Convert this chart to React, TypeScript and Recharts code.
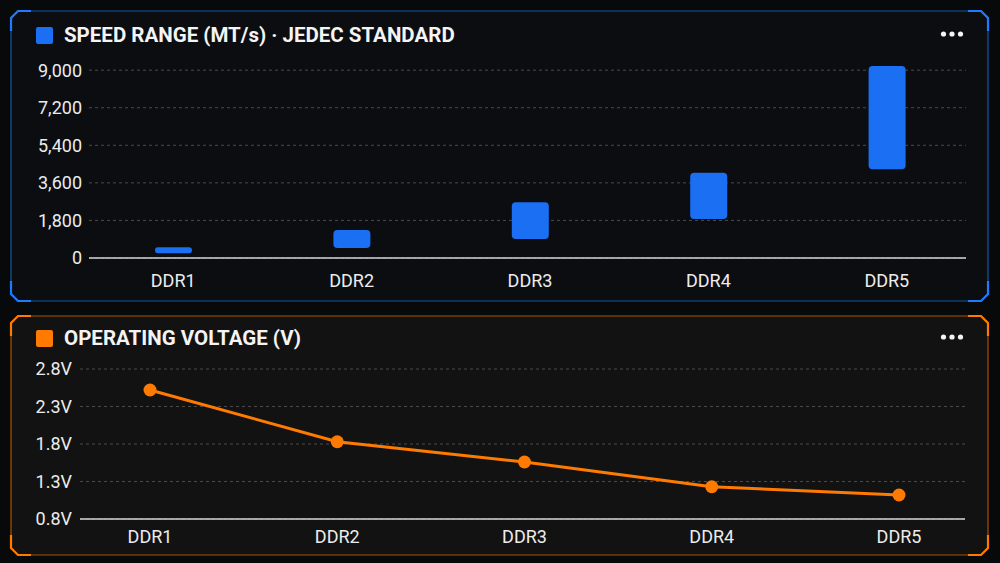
import React from 'react'
import {
  BarChart,
  Bar,
  LineChart,
  Line,
  XAxis,
  YAxis,
  CartesianGrid,
} from 'recharts'

// values
const generations = ['DDR1', 'DDR2', 'DDR3', 'DDR4', 'DDR5']
const speedLow = [230, 480, 910, 1870, 4250]
const speedHigh = [510, 1340, 2670, 4080, 9200]
const voltage = [2.52, 1.83, 1.56, 1.23, 1.12]
const speedTicks = [0, 1800, 3600, 5400, 7200, 9000]
const voltTicks = [0.8, 1.3, 1.8, 2.3, 2.8]

const speedData = generations.map((g, i) => ({ gen: g, range: [speedLow[i], speedHigh[i]] }))
const voltData = generations.map((g, i) => ({ gen: g, volt: voltage[i] }))

const BLUE = '#1b6ff3'
const ORANGE = '#ff7a00'
const FONT = 'Roboto, "Noto Sans", sans-serif'
const tickStyle = { fill: '#ececec', fontSize: 18, fontFamily: FONT }

function Panel({ top, height, accent, dim, bg }: { top: number; height: number; accent: string; dim: string; bg: string }) {
  const x = 11
  const w = 977
  const y = top
  const h = height
  const c = 7
  const a = 20
  const outline = `M${x + c},${y} L${x + w - c},${y} L${x + w},${y + c} L${x + w},${y + h - c} L${x + w - c},${y + h} L${x + c},${y + h} L${x},${y + h - c} L${x},${y + c} Z`
  const corners = [
    `M${x},${y + a} L${x},${y + c} L${x + c},${y} L${x + a},${y}`,
    `M${x + w - a},${y} L${x + w - c},${y} L${x + w},${y + c} L${x + w},${y + a}`,
    `M${x + w},${y + h - a} L${x + w},${y + h - c} L${x + w - c},${y + h} L${x + w - a},${y + h}`,
    `M${x + a},${y + h} L${x + c},${y + h} L${x},${y + h - c} L${x},${y + h - a}`,
  ]
  return (
    <svg width={1000} height={563} style={{ position: 'absolute', left: 0, top: 0 }}>
      <path d={outline} fill={bg} stroke={dim} strokeWidth={1.2} />
      {corners.map((d) => (
        <path key={d} d={d} fill="none" stroke={accent} strokeWidth={2.2} />
      ))}
    </svg>
  )
}

function Header({ top, color, title }: { top: number; color: string; title: string }) {
  return (
    <>
      <div
        style={{
          position: 'absolute',
          left: 36,
          top: top,
          width: 17,
          height: 17,
          borderRadius: 2,
          background: color,
        }}
      />
      <div
        style={{
          position: 'absolute',
          left: 64,
          top: top - 4,
          fontFamily: FONT,
          fontWeight: 700,
          fontSize: 20.5,
          lineHeight: '24px',
          color: '#f4f4f4',
          whiteSpace: 'nowrap',
        }}
      >
        {title}
      </div>
      <svg width={30} height={10} style={{ position: 'absolute', left: 938, top: top + 2 }}>
        {[5.5, 14, 22.5].map((cx) => (
          <circle key={cx} cx={cx} cy={5} r={2.6} fill="#f4f4f4" />
        ))}
      </svg>
    </>
  )
}

export default function App() {
  return (
    <div
      style={{
        position: 'fixed',
        left: 0,
        top: 0,
        width: 1000,
        height: 563,
        background: '#07090b',
        overflow: 'hidden',
      }}
    >
      <Panel top={11} height={290} accent="#1e7bff" dim="#1656a0" bg="#0b0d11" />
      <Panel top={316} height={239} accent={ORANGE} dim="#a85400" bg="#121212" />

      <Header top={27} color={BLUE} title="SPEED RANGE (MT/s) · JEDEC STANDARD" />
      <Header top={330} color={ORANGE} title="OPERATING VOLTAGE (V)" />

      <div style={{ position: 'absolute', left: 0, top: 50 }}>
        <BarChart
          width={1000}
          height={250}
          data={speedData}
          margin={{ top: 16, right: 34, bottom: 12, left: 0 }}
        >
          <CartesianGrid vertical={false} stroke="#4a4a4a" strokeDasharray="3 3" syncWithTicks />
          <XAxis
            dataKey="gen"
            height={30}
            padding={{ left: -5, right: -10 }}
            tickLine={false}
            tickMargin={10}
            axisLine={{ stroke: '#d4d4d4', strokeWidth: 1.5 }}
            tick={tickStyle}
          />
          <YAxis
            width={89}
            domain={[0, 9200]}
            ticks={speedTicks}
            tickFormatter={(v: number) => v.toLocaleString('en-US')}
            axisLine={false}
            tickLine={false}
            tickMargin={1}
            tick={tickStyle}
          />
          <Bar dataKey="range" fill={BLUE} barSize={37} radius={4} isAnimationActive={false} />
        </BarChart>
      </div>

      <div style={{ position: 'absolute', left: 0, top: 350 }}>
        <LineChart
          width={1000}
          height={205}
          data={voltData}
          margin={{ top: 19, right: 35, bottom: 6, left: 0 }}
        >
          <CartesianGrid vertical={false} stroke="#4a4a4a" strokeDasharray="3 3" syncWithTicks />
          <XAxis
            dataKey="gen"
            scale="point"
            height={30}
            padding={{ left: 70, right: 66 }}
            tickLine={false}
            tickMargin={5}
            axisLine={{ stroke: '#d4d4d4', strokeWidth: 1.5 }}
            tick={tickStyle}
          />
          <YAxis
            width={80}
            domain={[0.8, 2.8]}
            ticks={voltTicks}
            tickFormatter={(v: number) => `${v.toFixed(1)}V`}
            axisLine={false}
            tickLine={false}
            tickMargin={2}
            tick={tickStyle}
          />
          <Line
            type="linear"
            dataKey="volt"
            stroke={ORANGE}
            strokeWidth={3}
            dot={{ r: 6.5, fill: ORANGE, stroke: ORANGE, strokeWidth: 0 }}
            activeDot={false}
            isAnimationActive={false}
          />
        </LineChart>
      </div>
    </div>
  )
}
